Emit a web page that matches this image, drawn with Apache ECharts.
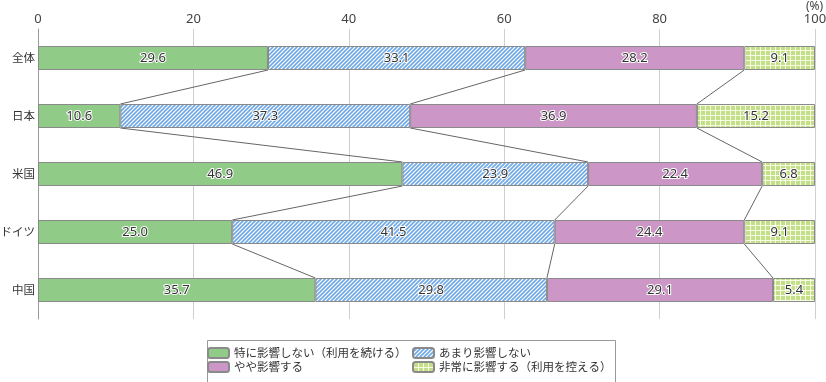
<!DOCTYPE html>
<html><head><meta charset="utf-8">
<script src="https://cdn.jsdelivr.net/npm/echarts@6/dist/echarts.min.js"></script>
<style>html,body{margin:0;padding:0;background:#fff}#c{width:826px;height:382px}</style>
</head><body><div id="c"></div>
<script>
const categories = ['全体', '日本', '米国', 'ドイツ', '中国'];
const seriesNames = ['特に影響しない（利用を続ける）', 'あまり影響しない', 'やや影響する', '非常に影響する（利用を控える）'];
const noEffect = [29.6, 10.6, 46.9, 25.0, 35.7];
const littleEffect = [33.1, 37.3, 23.9, 41.5, 29.8];
const someEffect = [28.2, 36.9, 22.4, 24.4, 29.1];
const bigEffect = [9.1, 15.2, 6.8, 9.1, 5.4];
const xTicks = [0, 20, 40, 60, 80, 100];

function hatch() {
  const c = document.createElement('canvas'); c.width = 4; c.height = 4;
  const g = c.getContext('2d');
  g.fillStyle = '#ffffff'; g.fillRect(0, 0, 4, 4);
  g.strokeStyle = '#6ea8e6'; g.lineWidth = 1.6;
  g.beginPath();
  g.moveTo(-1, 5); g.lineTo(5, -1);
  g.moveTo(-1, 1); g.lineTo(1, -1);
  g.moveTo(3, 5); g.lineTo(5, 3);
  g.stroke();
  return c;
}
function gridPat() {
  const c = document.createElement('canvas'); c.width = 5; c.height = 5;
  const g = c.getContext('2d');
  g.fillStyle = '#c4df89'; g.fillRect(0, 0, 5, 5);
  g.fillStyle = 'rgba(255,255,240,0.85)';
  g.fillRect(0, 0, 5, 1); g.fillRect(0, 0, 1, 5);
  return c;
}
const colors = ['#90cb87', {image: hatch(), repeat: 'repeat'}, '#cc97c6', {image: gridPat(), repeat: 'repeat'}];
const values = [noEffect, littleEffect, someEffect, bigEffect];

// connector data: boundary between consecutive categories
const connectors = [];
for (let s = 0; s < 3; s++) {
  for (let i = 0; i < categories.length - 1; i++) {
    let a = 0, b = 0;
    for (let k = 0; k <= s; k++) { a += values[k][i]; b += values[k][i + 1]; }
    connectors.push([i, +a.toFixed(1), +b.toFixed(1)]);
  }
}
const halfBar = 12;

const chart = echarts.init(document.getElementById('c'), null, {renderer: 'canvas'});
const barSeries = values.map((v, idx) => ({
  name: seriesNames[idx],
  type: 'bar',
  stack: 'total',
  barWidth: 24,
  data: v,
  itemStyle: {color: colors[idx], borderColor: '#8a8a8a', borderWidth: 1},
  label: {
    show: true, position: 'inside',
    formatter: p => p.value.toFixed(1),
    color: '#333', fontSize: 13, fontFamily: 'Noto Sans',
    textBorderColor: '#fff', textBorderWidth: 2
  },
  emphasis: {disabled: true}
}));
barSeries.push({
  type: 'custom',
  silent: true,
  z: 1,
  encode: {x: [1, 2], y: 0},
  data: connectors,
  renderItem: (params, api) => {
    const p1 = api.coord([api.value(1), api.value(0)]);
    const p2 = api.coord([api.value(2), api.value(0) + 1]);
    return {type: 'line', shape: {x1: p1[0], y1: p1[1] + halfBar, x2: p2[0], y2: p2[1] - halfBar},
      style: {stroke: '#666', lineWidth: 1}};
  }
});

const legendPos = [[207, 346], [412, 346], [207, 360], [412, 360]];
const legends = seriesNames.map((n, i) => ({
  data: [n], orient: 'horizontal', left: legendPos[i][0], top: legendPos[i][1],
  padding: 0, itemWidth: 21, itemHeight: 10, itemGap: 0, selectedMode: false,
  textStyle: {color: '#333', fontSize: 11.5, lineHeight: 14}
}));

chart.setOption({
  animation: false,
  textStyle: {fontFamily: 'Noto Sans CJK JP'},
  grid: {left: 38, right: 11, top: 29, height: 290, containLabel: false, outerBoundsMode: 'none'},
  xAxis: {
    type: 'value', position: 'top', min: 0, max: 100, interval: 20,
    axisLine: {show: false}, axisTick: {show: false},
    axisLabel: {color: '#444', fontSize: 13, fontFamily: 'Noto Sans', margin: 3,
      formatter: v => xTicks.includes(v) ? String(v) : ''},
    splitLine: {lineStyle: {color: '#cfcfcf'}}
  },
  yAxis: {
    type: 'category', inverse: true, data: categories,
    axisLine: {show: true, lineStyle: {color: '#999'}},
    axisTick: {show: false},
    axisLabel: {color: '#333', fontSize: 11.5, margin: 3}
  },
  legend: legends,
  graphic: [
    {type: 'rect', left: 205, top: 338, shape: {width: 408, height: 42},
      style: {fill: 'none', stroke: '#999', lineWidth: 1}, silent: true},
    {type: 'text', left: 806, top: 1, style: {text: '(%)', fill: '#444', fontSize: 12, fontFamily: 'Noto Sans'}},
    {type: 'line', shape: {x1: 815.5, y1: 29, x2: 815.5, y2: 319}, style: {stroke: '#999', lineWidth: 1}, silent: true}
  ],
  series: barSeries
});
</script></body></html>
